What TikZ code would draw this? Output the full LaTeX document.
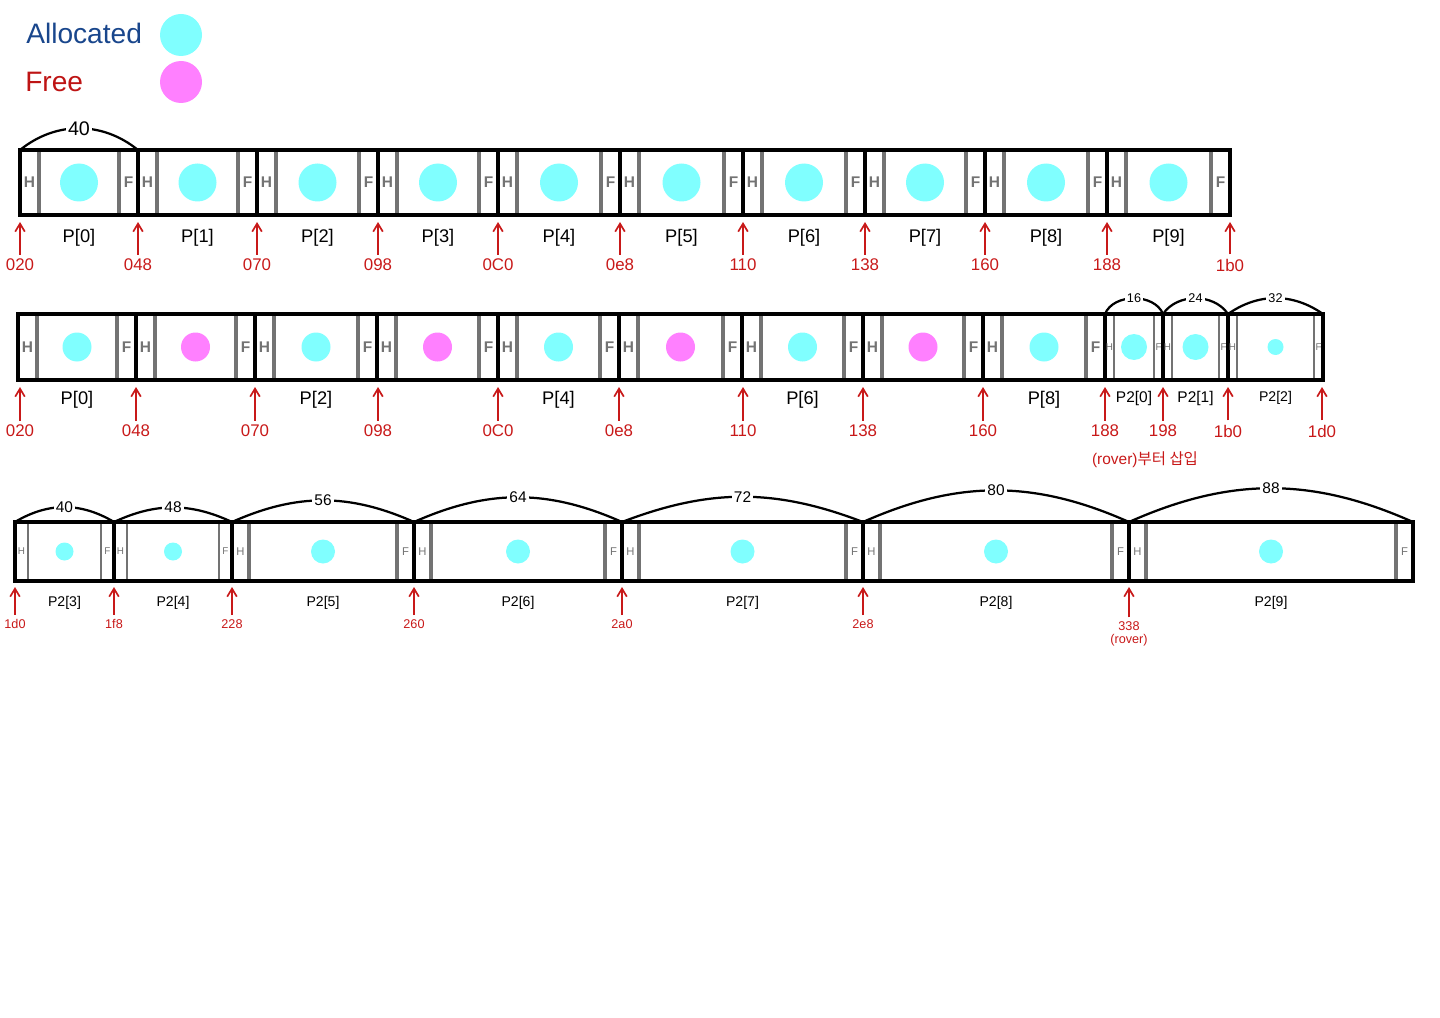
\documentclass[tikz,border=0pt]{standalone}
\usepackage{fontspec}
\setmainfont{Liberation Sans}
\newfontfamily\krfont{Noto Sans CJK KR}
\usetikzlibrary{arrows.meta,fit}
\definecolor{alloc}{RGB}{128,255,255}
\definecolor{freed}{RGB}{255,128,255}
\definecolor{navy}{RGB}{25,70,140}
\definecolor{crimson}{RGB}{190,20,20}
\definecolor{addrred}{RGB}{200,25,25}
\definecolor{hfgray}{RGB}{115,115,115}
\tikzset{
  >={Straight Barb[length=2mm,width=2.4mm]},
  legend/.style={anchor=west,text=#1,inner sep=0pt,font=\fontsize{20}{24}\selectfont},
  blk/.style={draw=black,line width=2.8pt,inner sep=0pt,outer sep=0pt},
  chunkdot/.style={circle,fill=#1,inner sep=0pt},
  hfline big/.style={draw=hfgray,line width=2.6pt},
  hfline mid/.style={draw=hfgray,line width=2.6pt},
  hfline small/.style={draw=hfgray,line width=1.2pt},
  hftext big/.style={text=hfgray,inner sep=0pt,font=\bfseries\fontsize{11}{11}\selectfont},
  hftext mid/.style={text=hfgray,inner sep=0pt,font=\fontsize{8}{8}\selectfont},
  hftext small/.style={text=hfgray,inner sep=0pt,font=\fontsize{7}{7}\selectfont},
  plabel/.style={inner sep=1pt,font=\fontsize{13}{15}\selectfont},
  plabel small/.style={inner sep=1pt,font=\fontsize{10}{12}\selectfont},
  addr/.style={text=addrred,inner sep=1pt,align=center,font=\fontsize{#1}{#1}\selectfont},
  addr/.default=11,
  ptr/.style={->,draw=addrred,line width=1.2pt,shorten <=2pt},
  arcline/.style={draw=black,line width=1.6pt},
  spanlabel/.style={fill=white,inner sep=1.5pt,font=\fontsize{#1}{#1}\selectfont},
  spanlabel/.default=11,
}
% #1 name, #2/#3 left/right, #4/#5 top/bottom, #6 colour, #7 dot size, #8 header width, #9 look
\newcommand{\blk}[9]{%
  \draw[hfline #9] (#2+#8,#4) -- (#2+#8,#5) (#3-#8,#4) -- (#3-#8,#5);
  \node[blk,fit={(#2,#4) (#3,#5)}] (#1) {};
  \node[chunkdot=#6,minimum size=#7*0.025cm] (#1d) at (#1.center) {};
  \node[hftext #9] (#1h) at ({#2+#8/2},{(#4+#5)/2}) {H};
  \node[hftext #9] (#1f) at ({#3-#8/2},{(#4+#5)/2}) {F};
}

\begin{document}
\begin{tikzpicture}[x=0.025cm,y=-0.025cm]
  \useasboundingbox (0,0) rectangle (1440,1018);

  % legend
  \node[legend=navy] (lgalloc) at (26,33) {Allocated};
  \node[chunkdot=alloc,minimum size=42*0.025cm] (lgallocdot) at (181,35) {};
  \node[legend=crimson] (lgfree) at (25,82) {Free};
  \node[chunkdot=freed,minimum size=42*0.025cm] (lgfreedot) at (181,82) {};

  % first heap
  \foreach \xl/\xr [count=\i from 0] in {20/138,138/257,257/378,378/498,498/620,620/743,743/865,865/985,985/1107,1107/1230}{
    \blk{r1b\i}{\xl}{\xr}{150}{215}{alloc}{38}{19}{big}
    \node[plabel] (r1p\i) at (r1b\i |- 0,238) {P[\i]};
  }
  \foreach \x/\t [count=\i from 0] in {20/020,138/048,257/070,378/098,498/0C0,620/0e8,743/110,865/138,985/160,1107/188,1230/1b0}{
    \coordinate (r1t\i) at (\x,222);
    \node[addr=12] (r1a\i) at (\x,265) {\t};
    \draw[ptr] (r1a\i) -- (r1t\i);
  }
  \draw[arcline] (r1b0.north west) to[bend left=39] node[spanlabel=14] {40} (r1b0.north east);

  % after free
  \foreach \xl/\xr/\c [count=\i from 0] in {18/136/alloc,136/255/freed,255/377/alloc,377/498/freed,498/619/alloc,619/742/freed,742/863/alloc,863/983/freed,983/1105/alloc}{
    \blk{r2b\i}{\xl}{\xr}{314}{380}{\c}{29}{19}{big}
  }
  \foreach \i in {0,2,4,6,8}
    \node[plabel] (r2p\i) at (r2b\i |- 0,400) {P[\i]};
  \foreach \xl/\xr/\d/\w/\b [count=\i from 0] in {1105/1163/26/16/68,1163/1228/26/24/56,1228/1323/16/32/35}{
    \blk{r2s\i}{\xl}{\xr}{314}{380}{alloc}{\d}{9}{small}
    \draw[arcline] (r2s\i.north west) to[bend left=\b] node[spanlabel=9] {\w} (r2s\i.north east);
  }
  \node[plabel,font=\fontsize{11}{13}\selectfont] (r2q0) at (r2s0 |- 0,398) {P2[0]};
  \node[plabel,font=\fontsize{11}{13}\selectfont] (r2q1) at (r2s1 |- 0,398) {P2[1]};
  \node[plabel small] (r2q2) at (r2s2 |- 0,398) {P2[2]};
  \foreach \x/\t [count=\i from 0] in {20/020,136/048,255/070,378/098,498/0C0,619/0e8,743/110,863/138,983/160,1105/188,1163/198,1228/1b0,1322/1d0}{
    \coordinate (r2t\i) at (\x,387);
    \node[addr=12] (r2a\i) at (\x,431) {\t};
    \draw[ptr] (r2a\i) -- (r2t\i);
  }
  \node[addr=11] (r2note) at (1145,460) {(rover)\krfont 부터 삽입};

  % second round of allocations
  \foreach \xl/\xr/\d/\n/\s/\w/\b [count=\i from 3] in {15/114/18/13/small/40/31,114/232/18/13/small/48/25,232/414/24/17/mid/56/24,414/622/24/17/mid/64/24,622/863/24/17/mid/72/21,863/1129/24/17/mid/80/24,1129/1413/24/17/mid/88/24}{
    \blk{r3b\i}{\xl}{\xr}{522}{581}{alloc}{\d}{\n}{\s}
    \node[plabel small] (r3p\i) at (r3b\i |- 0,603) {P2[\i]};
    \draw[arcline] (r3b\i.north west) to[bend left=\b] node[spanlabel=11] {\w} (r3b\i.north east);
  }
  \foreach \x/\t [count=\i from 0] in {15/1d0,114/1f8,232/228,414/260,622/2a0,863/2e8}{
    \coordinate (r3t\i) at (\x,587);
    \node[addr=9] (r3a\i) at (\x,624) {\t};
    \draw[ptr] (r3a\i) -- (r3t\i);
  }
  \coordinate (r3t6) at (1129,587);
  \node[addr=9] (r3a6) at (1129,634) {338\\(rover)};
  \draw[ptr] (r3a6) -- (r3t6);
\end{tikzpicture}
\end{document}
